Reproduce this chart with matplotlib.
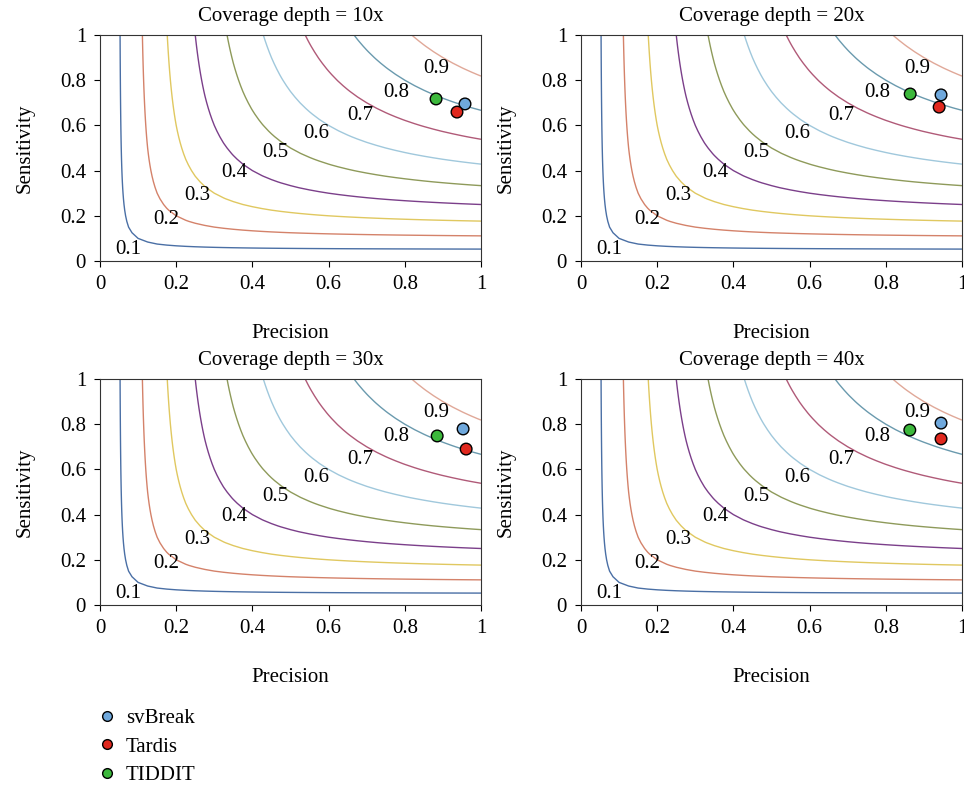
import numpy as np
import matplotlib
matplotlib.use('Agg')
import matplotlib.pyplot as plt
import matplotlib.ticker as ticker
from matplotlib.lines import Line2D

plt.rcParams['font.family'] = ['Liberation Serif', 'DejaVu Serif']
plt.rcParams['font.size'] = 15

depths = ['10x', '20x', '30x', '40x']
tools = ['svBreak', 'Tardis', 'TIDDIT']
tool_colors = ['#6fa8dc', '#e0281e', '#3cb83c']

# precision / sensitivity per depth, order: svBreak, Tardis, TIDDIT
precision = {
    '10x': [0.958, 0.937, 0.882],
    '20x': [0.945, 0.940, 0.864],
    '30x': [0.953, 0.961, 0.885],
    '40x': [0.945, 0.945, 0.863],
}
sensitivity = {
    '10x': [0.695, 0.659, 0.717],
    '20x': [0.735, 0.681, 0.739],
    '30x': [0.779, 0.690, 0.748],
    '40x': [0.805, 0.735, 0.774],
}

# F-score iso-lines
levels = [0.1, 0.2, 0.3, 0.4, 0.5, 0.6, 0.7, 0.8, 0.9]
level_colors = ['#4a6fa5', '#d4826a', '#e0c860', '#7b3f8a', '#8e9a5a',
                '#a0c8dc', '#b05a78', '#6a9aae', '#e0a898']
label_x = [0.073, 0.173, 0.255, 0.352, 0.459, 0.567, 0.682, 0.777, 0.882]
label_y = [0.052, 0.185, 0.288, 0.390, 0.478, 0.562, 0.646, 0.744, 0.850]

g = np.linspace(0.0001, 1, 41)
P, R = np.meshgrid(g, g)
F = 2 * P * R / (P + R)

fig = plt.figure(figsize=(9.64, 7.86), dpi=100)
W, H = 964, 786
boxes = [(100, 35), (581, 35), (100, 379), (581, 379)]

for (px, py), d in zip(boxes, depths):
    ax = fig.add_axes([px / W, 1 - (py + 226) / H, 381 / W, 226 / H])
    ax.contour(P, R, F, levels=levels, colors=level_colors, linewidths=1.0)
    for lv, lx, ly in zip(levels, label_x, label_y):
        ax.text(lx, ly, '%g' % lv, fontsize=15, ha='center', va='center')
    ax.scatter(precision[d], sensitivity[d], c=tool_colors, s=70,
               edgecolors='black', linewidths=1.0, zorder=5)
    ax.set_xlim(0, 1)
    ax.set_ylim(0, 1)
    ax.xaxis.set_major_locator(ticker.MultipleLocator(0.2))
    ax.yaxis.set_major_locator(ticker.MultipleLocator(0.2))
    ax.xaxis.set_major_formatter(ticker.FormatStrFormatter('%g'))
    ax.yaxis.set_major_formatter(ticker.FormatStrFormatter('%g'))
    ax.tick_params(direction='out', length=4, labelsize=15, pad=6)
    ax.text(0.5, 1 + 14 / 226, 'Coverage depth = ' + d, fontsize=15,
            ha='center', va='baseline', transform=ax.transAxes)
    ax.set_xlabel('Precision', fontsize=15, labelpad=22)
    ax.set_ylabel('Sensitivity', fontsize=15, labelpad=18)
    for s in ax.spines.values():
        s.set_color('#333333')

handles = [Line2D([], [], marker='o', linestyle='', markerfacecolor=c,
                  markeredgecolor='black', markersize=7, label=t)
           for t, c in zip(tools, tool_colors)]
fig.legend(handles=handles, loc='upper left', bbox_to_anchor=(78 / W, 1 - 690 / H),
           frameon=False, fontsize=15, handletextpad=0.4, labelspacing=0.42,
           handlelength=1.0)

fig.savefig('out.png', dpi=100)
